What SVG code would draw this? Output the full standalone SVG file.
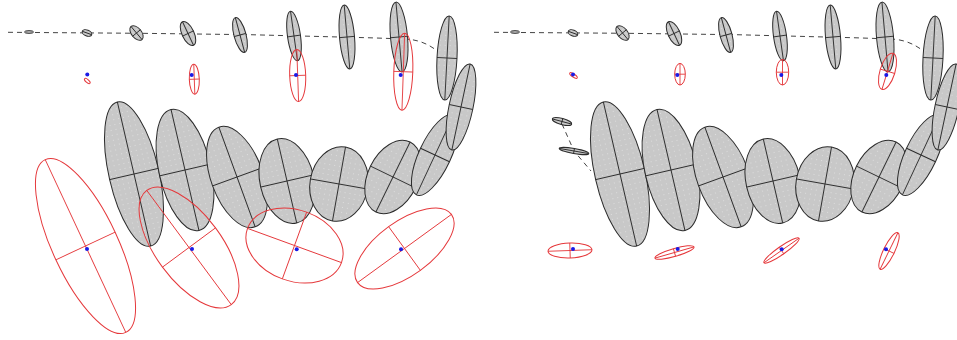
<svg xmlns="http://www.w3.org/2000/svg" width="957" height="340" viewBox="0 0 957 340">
<style>
.g{fill:url(#dots);stroke:#2b2b2b;stroke-width:1}
.gl{stroke:#2b2b2b;stroke-width:0.9}
.r{fill:none;stroke:#e5383b;stroke-width:1}
.rl{stroke:#e5383b;stroke-width:0.9}
.b{fill:#1a1ae6}
.d{fill:none;stroke:#444;stroke-width:1;stroke-dasharray:5,4}
</style>
<defs>
<pattern id="dots" width="5" height="5" patternUnits="userSpaceOnUse">
<rect width="5" height="5" fill="#c8c8c8"/>
<circle cx="2.5" cy="2.5" r="0.5" fill="#e4e4e4"/>
</pattern>
</defs>
<rect width="957" height="340" fill="#fff"/>
<g id="connectors">
<path class="d" d="M8,32.3 L140,33.3 L250,34.7 L370,37.8 L405,39 C418,39.5 428,44 436,50"/>
<path class="d" d="M494,32.3 L626,33.3 L736,34.7 L856,37.8 L891,39 C904,39.5 914,44 922,50"/>
<path class="d" d="M562,124 L574,151 L591,171"/>
</g>
<g id="left-gray">
<g id="gA" transform="translate(134,174) rotate(-13)"><ellipse class="g" rx="25" ry="74"/><line class="gl" x1="-25" y1="0" x2="25" y2="0"/><line class="gl" x1="0" y1="-74" x2="0" y2="74"/></g>
<g id="gB" transform="translate(185,170) rotate(-13)"><ellipse class="g" rx="26" ry="62"/><line class="gl" x1="-26" y1="0" x2="26" y2="0"/><line class="gl" x1="0" y1="-62" x2="0" y2="62"/></g>
<g id="gC" transform="translate(237,177) rotate(-20)"><ellipse class="g" rx="26" ry="53"/><line class="gl" x1="-26" y1="0" x2="26" y2="0"/><line class="gl" x1="0" y1="-53" x2="0" y2="53"/></g>
<g id="gD" transform="translate(287,181) rotate(-13)"><ellipse class="g" rx="27" ry="43"/><line class="gl" x1="-27" y1="0" x2="27" y2="0"/><line class="gl" x1="0" y1="-43" x2="0" y2="43"/></g>
<g id="gE" transform="translate(339,184) rotate(10)"><ellipse class="g" rx="29" ry="37.5"/><line class="gl" x1="-29" y1="0" x2="29" y2="0"/><line class="gl" x1="0" y1="-37.5" x2="0" y2="37.5"/></g>
<g id="gF" transform="translate(393,177) rotate(26)"><ellipse class="g" rx="25" ry="39"/><line class="gl" x1="-25" y1="0" x2="25" y2="0"/><line class="gl" x1="0" y1="-39" x2="0" y2="39"/></g>
<g id="gG" transform="translate(435,155) rotate(25)"><ellipse class="g" rx="16" ry="44"/><line class="gl" x1="-16" y1="0" x2="16" y2="0"/><line class="gl" x1="0" y1="-44" x2="0" y2="44"/></g>
<g id="g10" transform="translate(461,107) rotate(12)"><ellipse class="g" rx="12" ry="44"/><line class="gl" x1="-12" y1="0" x2="12" y2="0"/><line class="gl" x1="0" y1="-44" x2="0" y2="44"/></g>
<g id="g9" transform="translate(447,58) rotate(3)"><ellipse class="g" rx="10" ry="42"/><line class="gl" x1="-10" y1="0" x2="10" y2="0"/><line class="gl" x1="0" y1="-42" x2="0" y2="42"/></g>
<g id="g8" transform="translate(399,37) rotate(-5)"><ellipse class="g" rx="8.5" ry="35"/><line class="gl" x1="-8.5" y1="0" x2="8.5" y2="0"/><line class="gl" x1="0" y1="-35" x2="0" y2="35"/></g>
<g id="g7" transform="translate(347,37) rotate(-5)"><ellipse class="g" rx="7.5" ry="32"/><line class="gl" x1="-7.5" y1="0" x2="7.5" y2="0"/><line class="gl" x1="0" y1="-32" x2="0" y2="32"/></g>
<g id="g6" transform="translate(294,36) rotate(-8)"><ellipse class="g" rx="6.5" ry="25"/><line class="gl" x1="-6.5" y1="0" x2="6.5" y2="0"/><line class="gl" x1="0" y1="-25" x2="0" y2="25"/></g>
<g id="g5" transform="translate(240,35) rotate(-15)"><ellipse class="g" rx="6" ry="18"/><line class="gl" x1="-6" y1="0" x2="6" y2="0"/><line class="gl" x1="0" y1="-18" x2="0" y2="18"/></g>
<g id="g4" transform="translate(188,33.5) rotate(-25)"><ellipse class="g" rx="6" ry="13"/><line class="gl" x1="-6" y1="0" x2="6" y2="0"/><line class="gl" x1="0" y1="-13" x2="0" y2="13"/></g>
<g id="g3" transform="translate(136.5,33) rotate(-40)"><ellipse class="g" rx="5" ry="8.5"/><line class="gl" x1="-5" y1="0" x2="5" y2="0"/><line class="gl" x1="0" y1="-8.5" x2="0" y2="8.5"/></g>
<g id="g2" transform="translate(87,33) rotate(20)"><ellipse class="g" rx="5" ry="3"/><line class="gl" x1="-5" y1="0" x2="5" y2="0"/></g>
<g id="g1" transform="translate(29,32)"><ellipse class="g" rx="4.5" ry="1.3" fill="#555"/></g>
</g>
<g id="right-gray">
<g id="rgA" transform="translate(620,174) rotate(-13)"><ellipse class="g" rx="25" ry="74"/><line class="gl" x1="-25" y1="0" x2="25" y2="0"/><line class="gl" x1="0" y1="-74" x2="0" y2="74"/></g>
<g id="rgB" transform="translate(671,170) rotate(-13)"><ellipse class="g" rx="26" ry="62"/><line class="gl" x1="-26" y1="0" x2="26" y2="0"/><line class="gl" x1="0" y1="-62" x2="0" y2="62"/></g>
<g id="rgC" transform="translate(723,177) rotate(-20)"><ellipse class="g" rx="26" ry="53"/><line class="gl" x1="-26" y1="0" x2="26" y2="0"/><line class="gl" x1="0" y1="-53" x2="0" y2="53"/></g>
<g id="rgD" transform="translate(773,181) rotate(-13)"><ellipse class="g" rx="27" ry="43"/><line class="gl" x1="-27" y1="0" x2="27" y2="0"/><line class="gl" x1="0" y1="-43" x2="0" y2="43"/></g>
<g id="rgE" transform="translate(825,184) rotate(10)"><ellipse class="g" rx="29" ry="37.5"/><line class="gl" x1="-29" y1="0" x2="29" y2="0"/><line class="gl" x1="0" y1="-37.5" x2="0" y2="37.5"/></g>
<g id="rgF" transform="translate(879,177) rotate(26)"><ellipse class="g" rx="25" ry="39"/><line class="gl" x1="-25" y1="0" x2="25" y2="0"/><line class="gl" x1="0" y1="-39" x2="0" y2="39"/></g>
<g id="rgG" transform="translate(921,155) rotate(25)"><ellipse class="g" rx="16" ry="44"/><line class="gl" x1="-16" y1="0" x2="16" y2="0"/><line class="gl" x1="0" y1="-44" x2="0" y2="44"/></g>
<g id="rg10" transform="translate(947,107) rotate(12)"><ellipse class="g" rx="12" ry="44"/><line class="gl" x1="-12" y1="0" x2="12" y2="0"/><line class="gl" x1="0" y1="-44" x2="0" y2="44"/></g>
<g id="rg9" transform="translate(933,58) rotate(3)"><ellipse class="g" rx="10" ry="42"/><line class="gl" x1="-10" y1="0" x2="10" y2="0"/><line class="gl" x1="0" y1="-42" x2="0" y2="42"/></g>
<g id="rg8" transform="translate(885,37) rotate(-5)"><ellipse class="g" rx="8.5" ry="35"/><line class="gl" x1="-8.5" y1="0" x2="8.5" y2="0"/><line class="gl" x1="0" y1="-35" x2="0" y2="35"/></g>
<g id="rg7" transform="translate(833,37) rotate(-5)"><ellipse class="g" rx="7.5" ry="32"/><line class="gl" x1="-7.5" y1="0" x2="7.5" y2="0"/><line class="gl" x1="0" y1="-32" x2="0" y2="32"/></g>
<g id="rg6" transform="translate(780,36) rotate(-8)"><ellipse class="g" rx="6.5" ry="25"/><line class="gl" x1="-6.5" y1="0" x2="6.5" y2="0"/><line class="gl" x1="0" y1="-25" x2="0" y2="25"/></g>
<g id="rg5" transform="translate(726,35) rotate(-15)"><ellipse class="g" rx="6" ry="18"/><line class="gl" x1="-6" y1="0" x2="6" y2="0"/><line class="gl" x1="0" y1="-18" x2="0" y2="18"/></g>
<g id="rg4" transform="translate(674,33.5) rotate(-25)"><ellipse class="g" rx="6" ry="13"/><line class="gl" x1="-6" y1="0" x2="6" y2="0"/><line class="gl" x1="0" y1="-13" x2="0" y2="13"/></g>
<g id="rg3" transform="translate(622.5,33) rotate(-40)"><ellipse class="g" rx="5" ry="8.5"/><line class="gl" x1="-5" y1="0" x2="5" y2="0"/><line class="gl" x1="0" y1="-8.5" x2="0" y2="8.5"/></g>
<g id="rg2" transform="translate(573,33) rotate(20)"><ellipse class="g" rx="5" ry="3"/><line class="gl" x1="-5" y1="0" x2="5" y2="0"/></g>
<g id="rg1" transform="translate(515,32)"><ellipse class="g" rx="4.5" ry="1.3" fill="#555"/></g>
<g id="rs1" transform="translate(562,121.5) rotate(15)"><ellipse class="g" rx="10" ry="3"/><line class="gl" x1="-10" y1="0" x2="10" y2="0"/><line class="gl" x1="0" y1="-3" x2="0" y2="3"/></g>
<g id="rs2" transform="translate(574,151) rotate(10)"><ellipse class="g" rx="15" ry="2.5"/><line class="gl" x1="-15" y1="0" x2="15" y2="0"/><line class="gl" x1="0" y1="-2.5" x2="0" y2="2.5"/></g>
</g>
<g id="left-red">
<g id="Ru1"><ellipse class="r" transform="translate(87.3,81) rotate(40)" rx="3.5" ry="1.5" fill="#e5383b"/><circle class="b" cx="87.3" cy="74.5" r="2"/></g>
<g id="Ru2"><g transform="translate(194.3,79.2) rotate(-2)"><ellipse class="r" rx="5" ry="15"/><line class="rl" x1="-5" y1="0" x2="5" y2="0"/><line class="rl" x1="0" y1="-15" x2="0" y2="15"/></g><circle class="b" cx="191.7" cy="75" r="2"/></g>
<g id="Ru3"><g transform="translate(297.7,75.5) rotate(-2)"><ellipse class="r" rx="8" ry="26"/><line class="rl" x1="-8" y1="0" x2="8" y2="0"/><line class="rl" x1="0" y1="-26" x2="0" y2="26"/></g><circle class="b" cx="296" cy="75" r="2"/></g>
<g id="Ru4"><g transform="translate(403.3,71.7) rotate(2)"><ellipse class="r" rx="9.5" ry="38.5"/><line class="rl" x1="-9.5" y1="0" x2="9.5" y2="0"/><line class="rl" x1="0" y1="-38.5" x2="0" y2="38.5"/></g><circle class="b" cx="400.7" cy="75" r="2"/></g>
<g id="R1"><g transform="translate(85.5,246) rotate(-25)"><ellipse class="r" rx="32.7" ry="95.3"/><line class="rl" x1="-32.7" y1="0" x2="32.7" y2="0"/><line class="rl" x1="0" y1="-95.3" x2="0" y2="95.3"/></g><circle class="b" cx="87" cy="249" r="2"/></g>
<g id="R2"><g transform="translate(189,247.5) rotate(-36.5)"><ellipse class="r" rx="33" ry="71"/><line class="rl" x1="-33" y1="0" x2="33" y2="0"/><line class="rl" x1="0" y1="-71" x2="0" y2="71"/></g><circle class="b" cx="192" cy="249" r="2"/></g>
<g id="R3"><g transform="translate(294.5,245.5) rotate(20)"><ellipse class="r" rx="50" ry="35.5"/><line class="rl" x1="-50" y1="0" x2="50" y2="0"/><line class="rl" x1="0" y1="-35.5" x2="0" y2="35.5"/></g><circle class="b" cx="296.7" cy="249.3" r="2"/></g>
<g id="R4"><g transform="translate(404.5,248.5) rotate(-36)"><ellipse class="r" rx="58" ry="27"/><line class="rl" x1="-58" y1="0" x2="58" y2="0"/><line class="rl" x1="0" y1="-27" x2="0" y2="27"/></g><circle class="b" cx="401" cy="249.3" r="2"/></g>
</g>
<g id="right-red">
<g id="Rru1"><ellipse class="r" transform="translate(573.5,75.5) rotate(35)" rx="4.5" ry="1.5" fill="#e5383b"/><circle class="b" cx="573" cy="74.5" r="2"/></g>
<g id="Rru2"><g transform="translate(680,74.2)"><ellipse class="r" rx="5.3" ry="10.8"/><line class="rl" x1="-5.3" y1="0" x2="5.3" y2="0"/><line class="rl" x1="0" y1="-10.8" x2="0" y2="10.8"/></g><circle class="b" cx="677.3" cy="75" r="2"/></g>
<g id="Rru3"><g transform="translate(782.5,72.2)"><ellipse class="r" rx="6.2" ry="12.8"/><line class="rl" x1="-6.2" y1="0" x2="6.2" y2="0"/><line class="rl" x1="0" y1="-12.8" x2="0" y2="12.8"/></g><circle class="b" cx="781.3" cy="75" r="2"/></g>
<g id="Rru4"><g transform="translate(887.5,71.3) rotate(17)"><ellipse class="r" rx="7.5" ry="18.8"/><line class="rl" x1="-7.5" y1="0" x2="7.5" y2="0"/><line class="rl" x1="0" y1="-18.8" x2="0" y2="18.8"/></g><circle class="b" cx="886.3" cy="75" r="2"/></g>
<g id="Rr1"><g transform="translate(570,250.5) rotate(-2)"><ellipse class="r" rx="22" ry="7.5"/><line class="rl" x1="-22" y1="0" x2="22" y2="0"/><line class="rl" x1="0" y1="-7.5" x2="0" y2="7.5"/></g><circle class="b" cx="573" cy="249" r="2"/></g>
<g id="Rr2"><g transform="translate(674.5,252.5) rotate(-16)"><ellipse class="r" rx="20.3" ry="4"/><line class="rl" x1="-20.3" y1="0" x2="20.3" y2="0"/><line class="rl" x1="0" y1="-4" x2="0" y2="4"/></g><circle class="b" cx="677.7" cy="249" r="2"/></g>
<g id="Rr3"><g transform="translate(781.5,250.5) rotate(-35)"><ellipse class="r" rx="21.4" ry="4"/><line class="rl" x1="-21.4" y1="0" x2="21.4" y2="0"/><line class="rl" x1="0" y1="-4" x2="0" y2="4"/></g><circle class="b" cx="781.7" cy="249.3" r="2"/></g>
<g id="Rr4"><g transform="translate(889,251) rotate(26)"><ellipse class="r" rx="5.5" ry="20.3"/><line class="rl" x1="-5.5" y1="0" x2="5.5" y2="0"/><line class="rl" x1="0" y1="-20.3" x2="0" y2="20.3"/></g><circle class="b" cx="886" cy="249.3" r="2"/></g>
</g>
</svg>
